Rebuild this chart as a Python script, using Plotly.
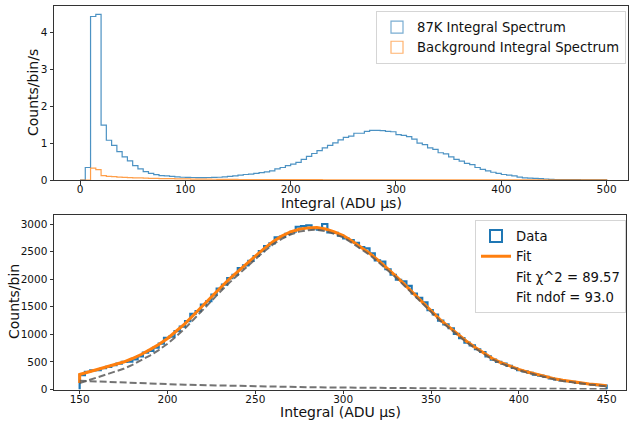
import numpy as np
import plotly.graph_objects as go

# ---------------- data ----------------
# Top panel: 100 bins of width 5 from 0 to 500 (counts/bin/s)
top_edges_lo, top_edges_hi, top_nbins = 0, 500, 100
spec87 = [
    0.0, 0.34, 4.44, 4.50, 1.49, 1.08, 0.94, 0.77, 0.63, 0.52,
    0.39, 0.30, 0.23, 0.18, 0.145, 0.12, 0.11, 0.10, 0.085, 0.075,
    0.07, 0.068, 0.067, 0.067, 0.068, 0.07, 0.075, 0.085, 0.10, 0.11,
    0.13, 0.15, 0.16, 0.18, 0.20, 0.22, 0.25, 0.30, 0.34, 0.39,
    0.43, 0.48, 0.56, 0.64, 0.72, 0.80, 0.87, 0.94, 1.01, 1.09,
    1.16, 1.19, 1.27, 1.27, 1.32, 1.35, 1.35, 1.34, 1.32, 1.31,
    1.23, 1.21, 1.18, 1.11, 1.00, 0.96, 0.87, 0.83, 0.74, 0.71,
    0.63, 0.56, 0.51, 0.45, 0.42, 0.34, 0.29, 0.25, 0.21, 0.18,
    0.15, 0.13, 0.11, 0.08, 0.06, 0.05, 0.045, 0.035, 0.027, 0.018,
    0.014, 0.012, 0.010, 0.009, 0.008, 0.006, 0.005, 0.004, 0.003, 0.002,
]
spec_bg = [
    0.0, 0.0, 0.32, 0.28, 0.12, 0.10, 0.09, 0.08, 0.07, 0.065,
    0.06, 0.055, 0.05, 0.045, 0.042, 0.04, 0.038, 0.035, 0.033, 0.03,
    0.028, 0.026, 0.025, 0.023, 0.022, 0.02, 0.018, 0.017, 0.016, 0.015,
    0.014, 0.013, 0.012, 0.012, 0.011, 0.011, 0.010, 0.010, 0.010, 0.009,
    0.009, 0.009, 0.008, 0.008, 0.008, 0.008, 0.007, 0.007, 0.007, 0.007,
    0.006, 0.006, 0.006, 0.006, 0.006, 0.005, 0.005, 0.005, 0.005, 0.005,
    0.004, 0.004, 0.004, 0.004, 0.004, 0.004, 0.003, 0.003, 0.003, 0.003,
    0.003, 0.003, 0.003, 0.002, 0.002, 0.002, 0.002, 0.002, 0.002, 0.002,
    0.002, 0.002, 0.002, 0.002, 0.001, 0.001, 0.001, 0.001, 0.001, 0.001,
    0.001, 0.001, 0.001, 0.001, 0.001, 0.001, 0.001, 0.001, 0.001, 0.001,
]

# Bottom panel: 100 bins of width 3 from 150 to 450 (counts/bin)
bot_edges_lo, bot_edges_hi, bot_nbins = 150, 450, 100
data_counts = [
    260, 320, 345, 350, 385, 410, 440, 470, 500, 505,
    545, 600, 670, 700, 760, 830, 935, 960, 1060, 1140,
    1240, 1370, 1420, 1540, 1600, 1720, 1830, 1900, 2020, 2080,
    2200, 2250, 2330, 2420, 2510, 2600, 2650, 2760, 2770, 2820,
    2860, 2950, 2960, 2975, 2920, 2900, 3000, 2850, 2840, 2790,
    2740, 2710, 2660, 2580, 2560, 2470, 2340, 2320, 2180, 2080,
    1990, 1960, 1880, 1740, 1660, 1580, 1440, 1360, 1250, 1180,
    1110, 1010, 930, 850, 800, 730, 680, 600, 540, 500,
    470, 430, 390, 350, 330, 300, 270, 250, 230, 200,
    185, 165, 150, 140, 120, 110, 100, 90, 80, 70,
]

fit_x = [150, 150, 155, 160, 165, 170, 175, 180, 185, 190, 195, 200, 205, 210, 215,
         220, 225, 230, 235, 240, 245, 250, 255, 260, 265, 270, 275, 280, 285,
         290, 295, 300, 305, 310, 315, 320, 325, 330, 335, 340, 345, 350, 355,
         360, 365, 370, 375, 380, 385, 390, 395, 400, 405, 410, 415, 420, 425,
         430, 435, 440, 445, 450]
fit_y = [120, 272, 318, 362, 405, 450, 498, 562, 634, 722, 815, 925, 1055, 1195, 1355,
         1520, 1680, 1840, 1995, 2140, 2280, 2420, 2555, 2680, 2780, 2855, 2905, 2930, 2935,
         2910, 2855, 2790, 2690, 2580, 2470, 2340, 2200, 2055, 1900, 1740, 1580, 1420, 1270,
         1140, 1005, 880, 765, 655, 560, 485, 422, 366, 316, 272, 232, 197, 167,
         142, 120, 101, 85, 68]

comp_x = fit_x[1:]
signal_y = [115, 168, 219, 269, 321, 375, 445, 523, 616, 714, 829, 964, 1109, 1273,
            1443, 1607, 1771, 1929, 2078, 2221, 2364, 2502, 2630, 2732, 2810, 2862, 2889, 2896,
            2873, 2820, 2757, 2658, 2550, 2441, 2312, 2174, 2030, 1877, 1718, 1559, 1400, 1251,
            1122, 987, 863, 749, 640, 545, 471, 408, 353, 303, 260, 220, 186, 156,
            132, 110, 91, 76, 59]
bkg_y = [157, 150, 143, 136, 129, 123, 117, 111, 106, 101, 96, 91, 86, 82,
         77, 73, 69, 66, 62, 59, 56, 53, 50, 48, 45, 43, 41, 39,
         37, 35, 33, 32, 30, 29, 28, 26, 25, 23, 22, 21, 20, 19,
         18, 18, 17, 16, 15, 15, 14, 14, 13, 13, 12, 12, 11, 11,
         10, 10, 10, 9, 9]

fit_chi2 = 89.57
fit_ndof = 93.0


def step_xy(lo, hi, n, vals):
    edges = np.linspace(lo, hi, n + 1)
    xs = np.concatenate([[edges[0]], edges, [edges[-1]]])
    ys = np.concatenate([[0.0], np.asarray(vals, float), [vals[-1], 0.0]])
    return xs, ys


FONT = "DejaVu Sans"
BLUE = "#1f77b4"
ORANGE = "#ff7f0e"

fig = go.Figure()

# ---------------- top panel ----------------
x1, y1 = step_xy(top_edges_lo, top_edges_hi, top_nbins, spec87)
fig.add_trace(go.Scatter(x=x1, y=y1, mode="lines", line=dict(color="rgba(31,119,180,0.8)", width=1.2, shape="hv"),
                         showlegend=False, xaxis="x", yaxis="y"))
x2, y2 = step_xy(top_edges_lo, top_edges_hi, top_nbins, spec_bg)
fig.add_trace(go.Scatter(x=x2, y=y2, mode="lines", line=dict(color="rgba(255,127,14,0.75)", width=1.2, shape="hv"),
                         showlegend=False, xaxis="x", yaxis="y"))
fig.add_trace(go.Bar(x=[None], y=[None], name="87K Integral Spectrum",
                     marker=dict(color="rgba(0,0,0,0)", line=dict(color="rgba(31,119,180,0.6)", width=1.2)),
                     xaxis="x", yaxis="y", legend="legend"))
fig.add_trace(go.Bar(x=[None], y=[None], name="Background Integral Spectrum",
                     marker=dict(color="rgba(0,0,0,0)", line=dict(color="rgba(255,127,14,0.6)", width=1.2)),
                     xaxis="x", yaxis="y", legend="legend"))

# ---------------- bottom panel ----------------
x3, y3 = step_xy(bot_edges_lo, bot_edges_hi, bot_nbins, data_counts)
fig.add_trace(go.Scatter(x=x3, y=y3, mode="lines", line=dict(color=BLUE, width=2.2, shape="hv"),
                         showlegend=False, xaxis="x2", yaxis="y2"))
fig.add_trace(go.Bar(x=[None], y=[None], name="Data",
                     marker=dict(color="rgba(0,0,0,0)", line=dict(color=BLUE, width=2)),
                     xaxis="x2", yaxis="y2", legend="legend2"))
fig.add_trace(go.Scatter(x=fit_x, y=fit_y, mode="lines", name="Fit",
                         line=dict(color=ORANGE, width=3), xaxis="x2", yaxis="y2", legend="legend2"))
fig.add_trace(go.Scatter(x=comp_x, y=signal_y, mode="lines", showlegend=False,
                         line=dict(color="rgba(90,90,90,0.85)", width=2, dash="7px,3px"),
                         xaxis="x2", yaxis="y2"))
fig.add_trace(go.Scatter(x=comp_x, y=bkg_y, mode="lines", showlegend=False,
                         line=dict(color="rgba(90,90,90,0.85)", width=2, dash="7px,3px"),
                         xaxis="x2", yaxis="y2"))
fig.add_trace(go.Scatter(x=[None], y=[None], mode="lines", name=f"Fit χ^2 = {fit_chi2}",
                         line=dict(color="rgba(0,0,0,0)", width=0), xaxis="x2", yaxis="y2", legend="legend2"))
fig.add_trace(go.Scatter(x=[None], y=[None], mode="lines", name=f"Fit ndof = {fit_ndof}",
                         line=dict(color="rgba(0,0,0,0)", width=0), xaxis="x2", yaxis="y2", legend="legend2"))

axis_common = dict(showline=True, linecolor="#333", linewidth=1, mirror=True, ticks="outside",
                   ticklen=3.5, tickwidth=1, tickcolor="#333", showgrid=False, zeroline=False,
                   automargin=False,
                   tickfont=dict(family=FONT, size=10.5, color="#111"))

W, H = 630, 421
legend_common = dict(xanchor="right", yanchor="top", bgcolor="rgba(255,255,255,0.9)",
                     bordercolor="#d5d5d5", borderwidth=1, traceorder="normal",
                     font=dict(family=FONT, size=13.2, color="#111"))
fig.update_layout(
    width=W, height=H, margin=dict(l=0, r=0, t=0, b=0, autoexpand=False),
    plot_bgcolor="white", paper_bgcolor="white",
    font=dict(family=FONT, color="#111"),
    barmode="overlay",
    xaxis=dict(domain=[54 / W, 628 / W], anchor="y", range=[-24.7, 520.3], ticklabelstandoff=-4,
               tickmode="array", tickvals=[0, 100, 200, 300, 400, 500], **axis_common),
    yaxis=dict(domain=[1 - 180 / H, 1 - 6 / H], anchor="x", range=[0, 4.725],
               tickmode="array", tickvals=[0, 1, 2, 3, 4], **axis_common),
    xaxis2=dict(domain=[54 / W, 625.5 / W], anchor="y2", range=[135.4, 460.7], ticklabelstandoff=-4,
                tickmode="array", tickvals=[150, 200, 250, 300, 350, 400, 450], **axis_common),
    yaxis2=dict(domain=[1 - 389.5 / H, 1 - 215.3 / H], anchor="x2", range=[0, 3158],
                tickmode="array", tickvals=[0, 500, 1000, 1500, 2000, 2500, 3000], **axis_common),
    legend=dict(x=626 / W, y=1 - 11 / H, **legend_common),
    legend2=dict(x=626 / W, y=1 - 220 / H, **legend_common),
    annotations=[
        dict(text="Integral (ADU µs)", x=341 / W, y=1 - 203 / H, xref="paper", yref="paper",
             showarrow=False, xanchor="center", yanchor="middle", font=dict(family=FONT, size=14)),
        dict(text="Integral (ADU µs)", x=340 / W, y=1 - 412 / H, xref="paper", yref="paper",
             showarrow=False, xanchor="center", yanchor="middle", font=dict(family=FONT, size=14)),
        dict(text="Counts/bin/s", x=33 / W, y=1 - 93 / H, xref="paper", yref="paper", textangle=-90,
             showarrow=False, xanchor="center", yanchor="middle", font=dict(family=FONT, size=14)),
        dict(text="Counts/bin", x=14 / W, y=1 - 302 / H, xref="paper", yref="paper", textangle=-90,
             showarrow=False, xanchor="center", yanchor="middle", font=dict(family=FONT, size=14)),
    ],
)

fig.write_html("out.html")
